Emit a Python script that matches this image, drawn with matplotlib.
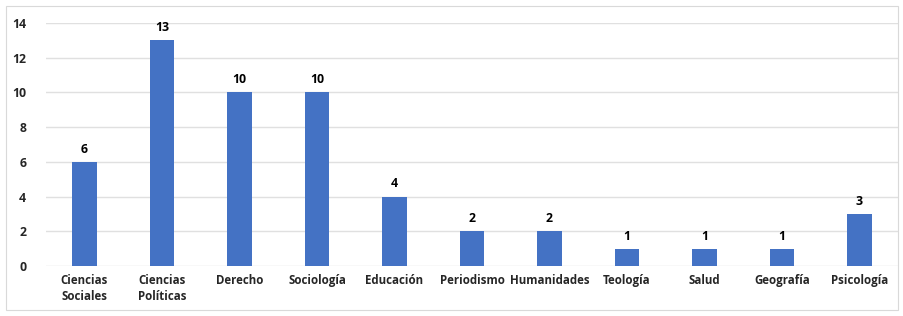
import matplotlib
matplotlib.use('Agg')
import matplotlib.pyplot as plt
from matplotlib.patches import Rectangle

categorias = ['Ciencias\nSociales', 'Ciencias\nPolíticas', 'Derecho', 'Sociología', 'Educación',
              'Periodismo', 'Humanidades', 'Teología', 'Salud', 'Geografía', 'Psicología']
valores = [6, 13, 10, 10, 4, 2, 2, 1, 1, 1, 3]
yticks = [0, 2, 4, 6, 8, 10, 12, 14]

plt.rcParams['font.family'] = ['Open Sans', 'DejaVu Sans']

fig = plt.figure(figsize=(9.04, 3.16), dpi=100)
ax = fig.add_axes([0.0506, 0.158, 0.943, 0.770])

x = range(len(categorias))
ax.bar(x, valores, width=0.32, color='#4472C4', zorder=3)
for xi, v in zip(x, valores):
    ax.text(xi, v + 0.35, str(v), ha='center', va='bottom', fontsize=8.8, fontweight='bold', color='#000000')

ax.set_xlim(-0.5, len(categorias) - 0.5)
ax.set_ylim(0, 14)
ax.set_yticks(yticks)
ax.set_xticks(list(x))
ax.set_xticklabels(categorias, fontsize=8.3, fontweight='bold', color='#262626', va='top', linespacing=1.25)
ax.tick_params(axis='y', labelsize=8.8, colors='#262626', length=0, pad=14)
ax.tick_params(axis='x', length=0, pad=6)
for lab in ax.get_yticklabels():
    lab.set_fontweight('bold')
ax.grid(axis='y', color='#e0e0e0', linewidth=1, zorder=0)
for s in ax.spines.values():
    s.set_visible(False)

fig.patches.append(Rectangle((6 / 904, 6 / 316), 892 / 904, 304 / 316, transform=fig.transFigure,
                             fill=False, edgecolor='#d9d9d9', linewidth=0.8))

fig.savefig('out.png', dpi=100)
